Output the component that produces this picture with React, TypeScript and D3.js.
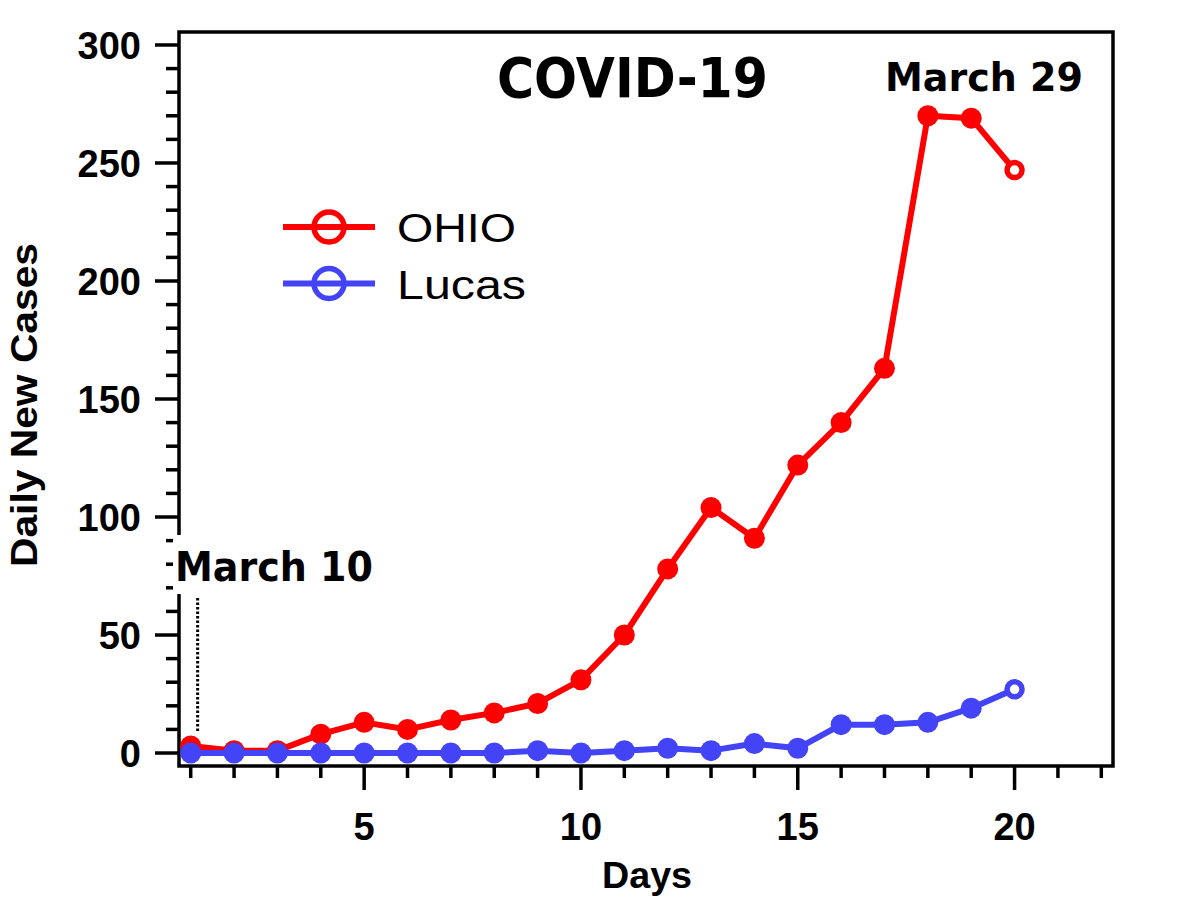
import React, { useEffect, useRef } from 'react'
import * as d3 from 'd3'

const days = d3.range(1, 21)
const ohio = [3, 1, 1, 8, 13, 10, 14, 17, 21, 31, 50, 78, 104, 91, 122, 140, 163, 270, 269, 247]
const lucas = [0, 0, 0, 0, 0, 0, 0, 0, 1, 0, 1, 2, 1, 4, 2, 12, 12, 13, 19, 27]
const yMajor = [0, 50, 100, 150, 200, 250, 300]
const xMajor = [5, 10, 15, 20]
const seriesNames = ['OHIO', 'Lucas']
const seriesColors = ['#ff0000', '#4343f7']

const W = 1200
const H = 900
const AXIS_FONT = '"Liberation Sans", Arial, sans-serif'
const HEAVY_FONT = '"DejaVu Sans", "Liberation Sans", sans-serif'

export default function App() {
  const ref = useRef<SVGSVGElement | null>(null)

  useEffect(() => {
    if (!ref.current) return
    const svg = d3.select(ref.current)
    svg.selectAll('*').remove()

    const x = d3.scaleLinear().domain([0.73, 22.27]).range([179, 1113])
    const y = d3.scaleLinear().domain([-5.5, 305.5]).range([766, 32])
    const [x0, x1] = x.range()
    const [yb, yt] = y.range()

    svg.append('rect').attr('width', W).attr('height', H).attr('fill', '#fff')

    // frame
    svg
      .append('rect')
      .attr('x', x0)
      .attr('y', yt)
      .attr('width', x1 - x0)
      .attr('height', yb - yt)
      .attr('fill', 'none')
      .attr('stroke', '#000')
      .attr('stroke-width', 3.5)

    // y axis: majors + minors
    const yMinor = d3.range(0, 301, 10).filter((v) => !yMajor.includes(v))
    const yAxis = svg.append('g').attr('transform', `translate(${x0},0)`)
    yAxis
      .selectAll('line.minor')
      .data(yMinor)
      .join('line')
      .attr('x1', -13)
      .attr('x2', 0)
      .attr('y1', (d) => y(d))
      .attr('y2', (d) => y(d))
      .attr('stroke', '#000')
      .attr('stroke-width', 3.5)
    yAxis
      .selectAll('line.major')
      .data(yMajor)
      .join('line')
      .attr('x1', -24)
      .attr('x2', 0)
      .attr('y1', (d) => y(d))
      .attr('y2', (d) => y(d))
      .attr('stroke', '#000')
      .attr('stroke-width', 3.5)
    yAxis
      .selectAll('text')
      .data(yMajor)
      .join('text')
      .attr('x', -38)
      .attr('y', (d) => y(d))
      .attr('dy', '0.36em')
      .attr('text-anchor', 'end')
      .attr('font-family', AXIS_FONT)
      .attr('font-weight', 'bold')
      .attr('font-size', 38)
      .text((d) => d)

    // x axis
    const xTicks = d3.range(1, 23)
    const xAxis = svg.append('g').attr('transform', `translate(0,${yb})`)
    xAxis
      .selectAll('line')
      .data(xTicks)
      .join('line')
      .attr('x1', (d) => x(d))
      .attr('x2', (d) => x(d))
      .attr('y1', 0)
      .attr('y2', (d) => (xMajor.includes(d) ? 24 : 12))
      .attr('stroke', '#000')
      .attr('stroke-width', 3.5)
    xAxis
      .selectAll('text')
      .data(xMajor)
      .join('text')
      .attr('x', (d) => x(d))
      .attr('y', 74)
      .attr('text-anchor', 'middle')
      .attr('font-family', AXIS_FONT)
      .attr('font-weight', 'bold')
      .attr('font-size', 38)
      .text((d) => d)

    // axis titles
    svg
      .append('text')
      .attr('x', 647)
      .attr('y', 888)
      .attr('text-anchor', 'middle')
      .attr('font-family', AXIS_FONT)
      .attr('font-weight', 'bold')
      .attr('font-size', 37)
      .attr('textLength', 90)
      .attr('lengthAdjust', 'spacingAndGlyphs')
      .text('Days')
    svg
      .append('text')
      .attr('transform', 'translate(37,405) rotate(-90)')
      .attr('text-anchor', 'middle')
      .attr('font-family', AXIS_FONT)
      .attr('font-weight', 'bold')
      .attr('font-size', 37)
      .attr('textLength', 324)
      .attr('lengthAdjust', 'spacingAndGlyphs')
      .text('Daily New Cases')

    // March 10 annotation (white box breaks the axis)
    svg.append('rect').attr('x', 173).attr('y', 535).attr('width', 206).attr('height', 59).attr('fill', '#fff')
    svg
      .append('text')
      .attr('x', 175)
      .attr('y', 581)
      .attr('font-family', HEAVY_FONT)
      .attr('font-weight', 'bold')
      .attr('font-size', 41)
      .attr('textLength', 198)
      .attr('lengthAdjust', 'spacingAndGlyphs')
      .text('March 10')
    svg
      .append('line')
      .attr('x1', x(1.16))
      .attr('x2', x(1.16))
      .attr('y1', 598)
      .attr('y2', 733)
      .attr('stroke', '#000')
      .attr('stroke-width', 3)
      .attr('stroke-dasharray', '2.5,2')

    // series
    const series = [ohio, lucas]
    series.forEach((vals, i) => {
      const color = seriesColors[i]
      const pts = days.map((d, j) => [d, vals[j]] as [number, number])
      const line = d3
        .line<[number, number]>()
        .x((d) => x(d[0]))
        .y((d) => y(d[1]))
      const g = svg.append('g')
      g.append('path')
        .attr('d', line(pts))
        .attr('fill', 'none')
        .attr('stroke', color)
        .attr('stroke-width', 6)
        .attr('stroke-linejoin', 'round')
      const last = pts.length - 1
      g.selectAll('circle')
        .data(pts)
        .join('circle')
        .attr('cx', (d) => x(d[0]))
        .attr('cy', (d) => y(d[1]))
        .attr('r', (_, j) => (j === last ? 7.5 : 10.5))
        .attr('fill', (_, j) => (j === last ? '#fff' : color))
        .attr('stroke', color)
        .attr('stroke-width', (_, j) => (j === last ? 5.5 : 0))
    })

    // legend
    const legend = svg.append('g')
    const legendWidths = [119, 129]
    seriesNames.forEach((name, i) => {
      const ly = 227 + i * 56.5
      legend
        .append('line')
        .attr('x1', 283)
        .attr('x2', 375)
        .attr('y1', ly)
        .attr('y2', ly)
        .attr('stroke', seriesColors[i])
        .attr('stroke-width', 6)
      legend
        .append('circle')
        .attr('cx', 329)
        .attr('cy', ly)
        .attr('r', 15)
        .attr('fill', 'none')
        .attr('stroke', seriesColors[i])
        .attr('stroke-width', 5.5)
      legend
        .append('text')
        .attr('x', 397)
        .attr('y', ly + 15)
        .attr('font-family', AXIS_FONT)
        .attr('font-size', 40)
        .attr('textLength', legendWidths[i])
        .attr('lengthAdjust', 'spacingAndGlyphs')
        .text(name)
    })

    // titles
    svg
      .append('text')
      .attr('x', 497)
      .attr('y', 97)
      .attr('font-family', HEAVY_FONT)
      .attr('font-weight', 'bold')
      .attr('font-size', 55)
      .attr('textLength', 271)
      .attr('lengthAdjust', 'spacingAndGlyphs')
      .text('COVID-19')
    svg
      .append('text')
      .attr('x', 885)
      .attr('y', 91)
      .attr('font-family', HEAVY_FONT)
      .attr('font-weight', 'bold')
      .attr('font-size', 39)
      .attr('textLength', 198)
      .attr('lengthAdjust', 'spacingAndGlyphs')
      .text('March 29')
  }, [])

  return (
    <svg
      ref={ref}
      width={W}
      height={H}
      style={{ position: 'absolute', left: 0, top: 0 }}
      role="img"
      aria-label="COVID-19 daily new cases"
    />
  )
}
